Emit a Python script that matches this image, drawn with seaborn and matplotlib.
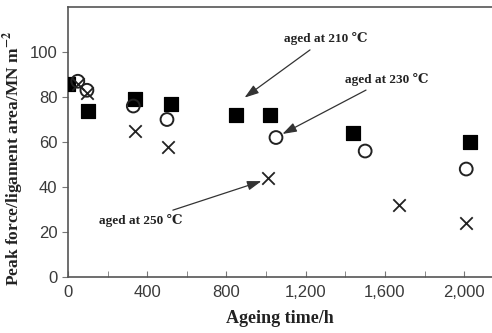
import numpy as np
import pandas as pd
import matplotlib
matplotlib.use('Agg')
import matplotlib.pyplot as plt
import seaborn as sns
from matplotlib.ticker import MultipleLocator, FuncFormatter

# Data
t_210 = [0, 100, 340, 520, 850, 1020, 1440, 2030]
f_210 = [86, 74, 79, 77, 72, 72, 64, 60]

t_230 = [50, 96, 330, 500, 1050, 1500, 2010]
f_230 = [87, 83, 76, 70, 62, 56, 48]

t_250 = [50, 96, 340, 505, 1010, 1670, 2010]
f_250 = [86, 82, 65, 58, 44, 32, 24]

df = pd.concat([
    pd.DataFrame({'time': t_210, 'force': f_210, 'temp': '210'}),
    pd.DataFrame({'time': t_230, 'force': f_230, 'temp': '230'}),
    pd.DataFrame({'time': t_250, 'force': f_250, 'temp': '250'}),
])

sns.set_style('ticks')
plt.rcParams['font.family'] = ['Liberation Sans', 'DejaVu Sans']
plt.rcParams['mathtext.fontset'] = 'stix'
fig = plt.figure(figsize=(4.92, 3.33), dpi=100)
ax = fig.add_axes([0.138, 0.168, 0.862, 0.811])

sns.scatterplot(data=df[df.temp == '210'], x='time', y='force', marker='s',
                s=115, color='black', edgecolor='black', ax=ax, legend=False, zorder=3)
sns.scatterplot(data=df[df.temp == '230'], x='time', y='force', marker='o',
                s=85, facecolor='none', edgecolor='#222222', linewidth=1.4, ax=ax, legend=False, zorder=4)
sns.scatterplot(data=df[df.temp == '250'], x='time', y='force', marker='x',
                s=80, color='#222222', linewidth=1.3, ax=ax, legend=False, zorder=4)

ax.set_xlim(0, 2140)
ax.set_ylim(0, 120)
ax.xaxis.set_major_locator(MultipleLocator(400))
ax.xaxis.set_minor_locator(MultipleLocator(200))
ax.set_yticks([0, 20, 40, 60, 80, 100])
ax.xaxis.set_major_formatter(FuncFormatter(lambda v, p: f'{int(v):,}'))
ax.tick_params(axis='x', which='both', direction='in', length=4, color='#777777',
               labelsize=12, labelcolor='#3a3a3a', pad=6)
ax.tick_params(axis='y', direction='out', length=4, color='#777777',
               labelsize=12, labelcolor='#3a3a3a')
for s in ['left', 'bottom', 'top']:
    ax.spines[s].set_color('#555555')
    ax.spines[s].set_linewidth(1.2)
ax.spines['right'].set_visible(False)

serif = ['Liberation Serif', 'DejaVu Serif']
ax.set_xlabel('Ageing time/h', family=serif, fontsize=13,
              fontweight='bold', color='#222222', labelpad=7)
ax.set_ylabel(r'Peak force/ligament area/MN m$^{\mathbf{-2}}$', family=serif,
              fontsize=12.5, fontweight='bold', color='#222222')
ax.yaxis.set_label_coords(-0.098, 0.44)

arrow = dict(arrowstyle='-|>,head_length=0.9,head_width=0.3', color='#333333', lw=0.9)
txt = dict(family=serif, fontsize=9.5, fontweight='bold', color='#222222')
ax.annotate('aged at 210 ℃', xy=(880, 79), xytext=(1090, 106),
            arrowprops=arrow, va='center', ha='left', **txt)
ax.annotate('aged at 230 ℃', xy=(1070, 63), xytext=(1400, 88),
            arrowprops=arrow, va='center', ha='left', **txt)
ax.annotate('aged at 250 ℃', xy=(990, 43), xytext=(155, 25),
            arrowprops=arrow, va='center', ha='left', **txt)

plt.savefig('out.png', dpi=100)
